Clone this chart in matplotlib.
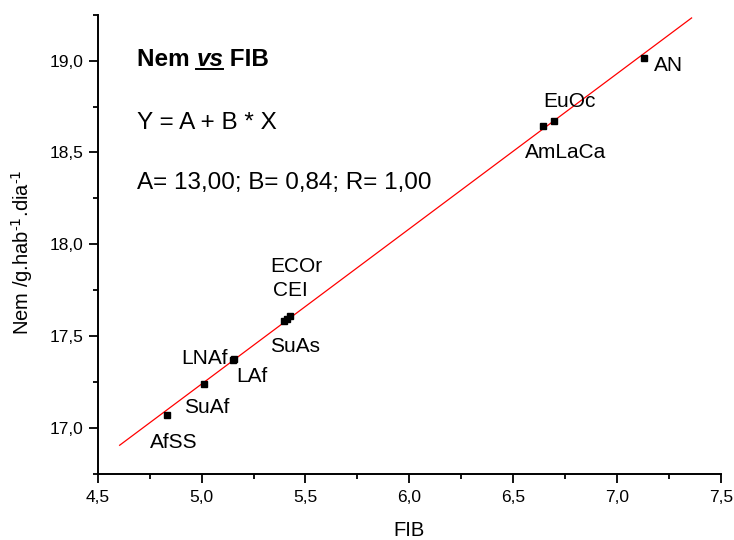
import numpy as np
import matplotlib
matplotlib.use("Agg")
import matplotlib.pyplot as plt
from matplotlib.lines import Line2D
from matplotlib.ticker import MultipleLocator, FuncFormatter

plt.rcParams['font.family'] = ['Liberation Sans', 'DejaVu Sans']

# data
regions = ['AfSS', 'SuAf', 'LNAf', 'LAf', 'SuAs', 'CEI', 'ECOr', 'AmLaCa', 'EuOc', 'AN']
fib = [4.835, 5.012, 5.151, 5.155, 5.397, 5.41, 5.426, 6.644, 6.696, 7.129]
nem = [17.072, 17.241, 17.373, 17.377, 17.584, 17.596, 17.611, 18.645, 18.674, 19.016]
# label offsets in pixels (dx, dy)
label_pos = {
    'AfSS': (-17, -28),
    'SuAf': (-20, -24),
    'LNAf': (-52, 1),
    'LAf': (2, -18),
    'SuAs': (-14, -26),
    'CEI': (-14, 28),
    'ECOr': (-20, 49),
    'AmLaCa': (-18, -27),
    'EuOc': (-11, 19),
    'AN': (10, -8),
}

W, H = 734, 540
fig = plt.figure(figsize=(W / 100, H / 100), dpi=100)
ax = fig.add_axes([0.1331, 0.1222, 0.8492, 0.8506])

ax.plot(fib, nem, 's', color='black', ms=4.5, zorder=3)

# linear fit
B, A = np.polyfit(fib, nem, 1)
span = max(fib) - min(fib)
xl = np.array([min(fib) - 0.1 * span, max(fib) + 0.1 * span])
ax.plot(xl, A + B * xl, color='red', lw=0.9, zorder=2)

for name, x, y in zip(regions, fib, nem):
    dx, dy = label_pos[name]
    ax.annotate(name, (x, y), xytext=(dx, dy), textcoords='offset pixels',
                ha='left', va='center', fontsize=15)

ax.set_xlim(4.5, 7.5)
ax.set_ylim(16.75, 19.25)
ax.xaxis.set_major_locator(MultipleLocator(0.5))
ax.xaxis.set_minor_locator(MultipleLocator(0.25))
ax.yaxis.set_major_locator(MultipleLocator(0.5))
ax.yaxis.set_minor_locator(MultipleLocator(0.25))
comma = FuncFormatter(lambda v, p: f"{v:.1f}".replace('.', ','))
ax.xaxis.set_major_formatter(comma)
ax.yaxis.set_major_formatter(comma)
ax.tick_params(which='major', direction='out', length=6.5, width=1.3, labelsize=12.5, pad=4)
ax.tick_params(which='minor', direction='out', length=3.5, width=1.3)
ax.tick_params(axis='x', which='major', pad=5)
ax.spines['top'].set_visible(False)
ax.spines['right'].set_visible(False)
ax.spines['left'].set_linewidth(1.4)
ax.spines['bottom'].set_linewidth(1.4)

axh = 0.8506 * H
axw = 0.8492 * W
ax.set_xlabel('FIB', fontsize=14.5, va='center')
ax.set_ylabel('Nem /g.hab$^{\\mathregular{\u2010}1}$.dia$^{\\mathregular{\u2010}1}$', fontsize=14.5,
              va='center', ha='center')
ax.xaxis.set_label_coords(0.5, -56 / axh)
ax.yaxis.set_label_coords((22 - 97.7) / axw, (474 - 252) / axh)

# annotation box text
t1 = fig.text(137 / W, 1 - 65.7 / H, 'Nem ', fontsize=17.5, fontweight='bold', va='baseline')
t2 = ax.annotate('vs', xy=(1, 0), xycoords=t1, va='bottom', fontsize=17.5,
                 fontweight='bold', fontstyle='italic')
t3 = ax.annotate(' FIB', xy=(1, 0), xycoords=t2, va='bottom', fontsize=17.5, fontweight='bold')
fig.text(137 / W, 1 - 129.3 / H, 'Y = A + B * X', fontsize=17.5, va='baseline')
fig.text(137 / W, 1 - 189.3 / H, 'A= 13,00; B= 0,84; R= 1,00', fontsize=17.5, va='baseline')

fig.canvas.draw()
bb = t2.get_window_extent()
yline = 1 - 69.4 / H
fig.add_artist(Line2D([bb.x0 / W, bb.x1 / W], [yline, yline], color='black', lw=1.4))

fig.savefig('out.png', dpi=100)
